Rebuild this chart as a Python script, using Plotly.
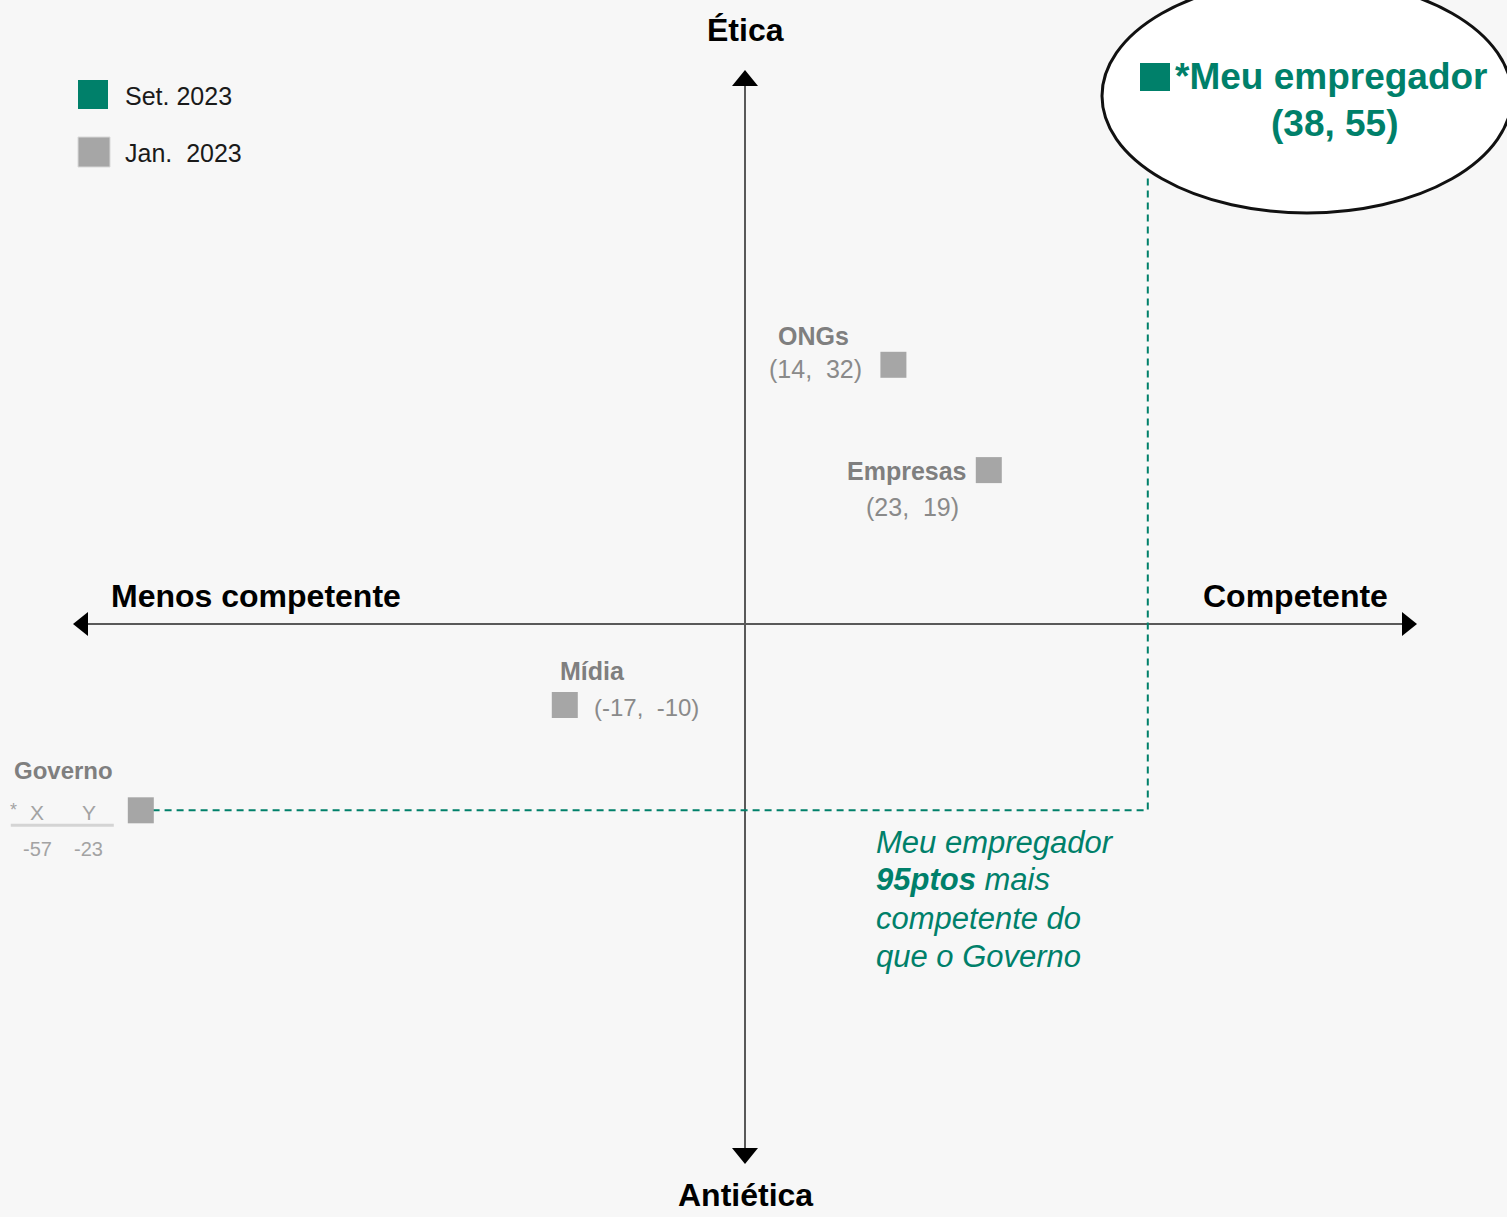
import plotly.graph_objects as go

# ---- data -------------------------------------------------------------
institutions = ["ONGs", "Empresas", "Mídia", "Governo"]
competence_x = [14, 23, -17, -57]      # Jan. 2023
ethics_y = [32, 19, -10, -23]

employer_name = "Meu empregador"
employer_x = 38                        # Set. 2023
employer_y = 55

legend_labels = ["Set. 2023", "Jan. 2023"]
axis_labels = {"top": "Ética", "bottom": "Antiética",
               "left": "Menos competente", "right": "Competente"}

# ---- styling ----------------------------------------------------------
W, H = 1507, 1217
BG = "#f7f7f7"
GREEN = "#00806a"
GRAY_MARK = "#a6a6a6"
GRAY_NAME = "#7f7f7f"
GRAY_VAL = "#8a8a8a"
GRAY_TAB = "#a3a3a3"
AXIS = "#595959"
FONT = "Liberation Sans, Arial, sans-serif"

# origin of the map sits at (745, 624) px; scale 10.6 px/pt horizontally, 8.1 px/pt vertically
X_RANGE = [-745 / 10.6, (W - 745) / 10.6]
Y_RANGE = [-(H - 624) / 8.1, 624 / 8.1]


def px(x):
    return x / W


def py(y):
    return 1 - y / H


fig = go.Figure()

# dashed connector from "Meu empregador" to "Governo"
gi = institutions.index("Governo")
fig.add_trace(go.Scatter(
    x=[employer_x, employer_x, competence_x[gi]],
    y=[employer_y, ethics_y[gi], ethics_y[gi]],
    mode="lines", line=dict(color=GREEN, width=2, dash="7px,5px"),
    hoverinfo="skip", showlegend=False))

# Jan. 2023 institutions
fig.add_trace(go.Scatter(
    x=competence_x, y=ethics_y, mode="markers",
    marker=dict(symbol="square", size=26, color=GRAY_MARK, line=dict(width=0)),
    text=institutions, hoverinfo="text", showlegend=False))

shapes = []
# axis cross (through data origin)
shapes.append(dict(type="line", xref="paper", yref="y", x0=px(88), x1=px(1402),
                   y0=0, y1=0, line=dict(color=AXIS, width=2), layer="below"))
shapes.append(dict(type="line", xref="x", yref="paper", x0=0, x1=0,
                   y0=py(86), y1=py(1148), line=dict(color=AXIS, width=2), layer="below"))


def tri(points):
    d = "M " + " L ".join(f"{px(a):.5f},{py(b):.5f}" for a, b in points) + " Z"
    return dict(type="path", xref="paper", yref="paper", path=d,
                fillcolor="#000000", line=dict(width=0))


shapes += [
    tri([(745, 70), (732, 86), (758, 86)]),
    tri([(745, 1164), (732, 1148), (758, 1148)]),
    tri([(73, 624), (88, 612), (88, 636)]),
    tri([(1417, 624), (1402, 612), (1402, 636)]),
]

# legend swatches
shapes.append(dict(type="rect", xref="paper", yref="paper",
                   x0=px(78), x1=px(108), y0=py(109), y1=py(80),
                   fillcolor=GREEN, line=dict(width=0)))
shapes.append(dict(type="rect", xref="paper", yref="paper",
                   x0=px(78), x1=px(110), y0=py(167), y1=py(137),
                   fillcolor=GRAY_MARK, line=dict(color="#d9d9d9", width=1)))

# callout ellipse for the employer
shapes.append(dict(type="circle", xref="paper", yref="paper",
                   x0=px(1102), x1=px(1512), y0=py(213), y1=py(-21),
                   fillcolor="#ffffff", line=dict(color="#111111", width=3)))
shapes.append(dict(type="rect", xref="paper", yref="paper",
                   x0=px(1140), x1=px(1170), y0=py(91), y1=py(63),
                   fillcolor=GREEN, line=dict(width=0)))

# underline of the Governo value table
shapes.append(dict(type="line", xref="x", yref="y",
                   xsizemode="pixel", ysizemode="pixel",
                   xanchor=competence_x[gi], yanchor=ethics_y[gi],
                   x0=-130, x1=-27, y0=-15, y1=-15,
                   line=dict(color="#d4d4d4", width=3)))

ann = []


def text(x, y, s, size, color, bold=False, xanchor="center", italic=False):
    if bold:
        s = f"<b>{s}</b>"
    if italic:
        s = f"<i>{s}</i>"
    ann.append(dict(xref="paper", yref="paper", x=px(x), y=py(y), text=s,
                    showarrow=False, xanchor=xanchor, yanchor="middle",
                    font=dict(family=FONT, size=size, color=color)))


def label(i, s, dx, dy, size, color, bold=False, xanchor="left"):
    if bold:
        s = f"<b>{s}</b>"
    ann.append(dict(xref="x", yref="y", x=competence_x[i], y=ethics_y[i], text=s,
                    showarrow=False, xanchor=xanchor, yanchor="middle",
                    xshift=dx, yshift=dy,
                    font=dict(family=FONT, size=size, color=color)))


# axis titles
text(745, 30, axis_labels["top"], 32, "#000000", bold=True)
text(745, 1195, axis_labels["bottom"], 32, "#000000", bold=True)
text(109, 596, axis_labels["left"], 32, "#000000", bold=True, xanchor="left")
text(1390, 596, axis_labels["right"], 32, "#000000", bold=True, xanchor="right")

# legend labels
text(123, 96, legend_labels[0], 25, "#1a1a1a", xanchor="left")
text(123, 153, legend_labels[1].replace(" ", "&nbsp; "), 25, "#1a1a1a", xanchor="left")


def coord(i):
    return f"({competence_x[i]},&nbsp; {ethics_y[i]})"


# ONGs
label(0, institutions[0], -117, 29, 25, GRAY_NAME, bold=True)
label(0, coord(0), -29, -4, 25, GRAY_VAL, xanchor="right")
# Empresas
label(1, institutions[1], -20, -1, 25, GRAY_NAME, bold=True, xanchor="right")
label(1, coord(1), -76, -37, 25, GRAY_VAL, xanchor="center")
# Mídia
label(2, institutions[2], -7, 34, 25, GRAY_NAME, bold=True)
label(2, coord(2), 27, -2, 24, GRAY_VAL)
# Governo with its small value table
label(3, institutions[3], -129, 40, 24, GRAY_NAME, bold=True)
label(3, "*", -127, 0, 18, GRAY_TAB, xanchor="center")
label(3, "X", -104, -2, 21, GRAY_TAB, xanchor="center")
label(3, "Y", -52, -2, 21, GRAY_TAB, xanchor="center")
label(3, str(competence_x[3]), -103, -39, 20, GRAY_TAB, xanchor="center")
label(3, str(ethics_y[3]), -52, -39, 20, GRAY_TAB, xanchor="center")

# employer callout text
text(1173, 77, "*" + employer_name, 37, GREEN, bold=True, xanchor="left")
text(1335, 124, f"({employer_x},&nbsp;{employer_y})", 37, GREEN, bold=True)

# gap note, one line per annotation for tight line spacing
gap = employer_x - competence_x[gi]
note_lines = [f"<i>{employer_name}</i>", f"<i><b>{gap}ptos</b> mais</i>",
              "<i>competente do</i>", "<i>que o Governo</i>"]
for k, line in enumerate(note_lines):
    ann.append(dict(xref="paper", yref="paper", x=px(874), y=py(842 + 38 * k),
                    text=line, showarrow=False, xanchor="left", yanchor="middle",
                    font=dict(family=FONT, size=31, color=GREEN)))

fig.update_layout(
    width=W, height=H, margin=dict(l=0, r=0, t=0, b=0),
    paper_bgcolor=BG, plot_bgcolor=BG,
    xaxis=dict(range=X_RANGE, visible=False, fixedrange=True),
    yaxis=dict(range=Y_RANGE, visible=False, fixedrange=True),
    shapes=shapes, annotations=ann, showlegend=False,
)

fig.write_html("out.html")
